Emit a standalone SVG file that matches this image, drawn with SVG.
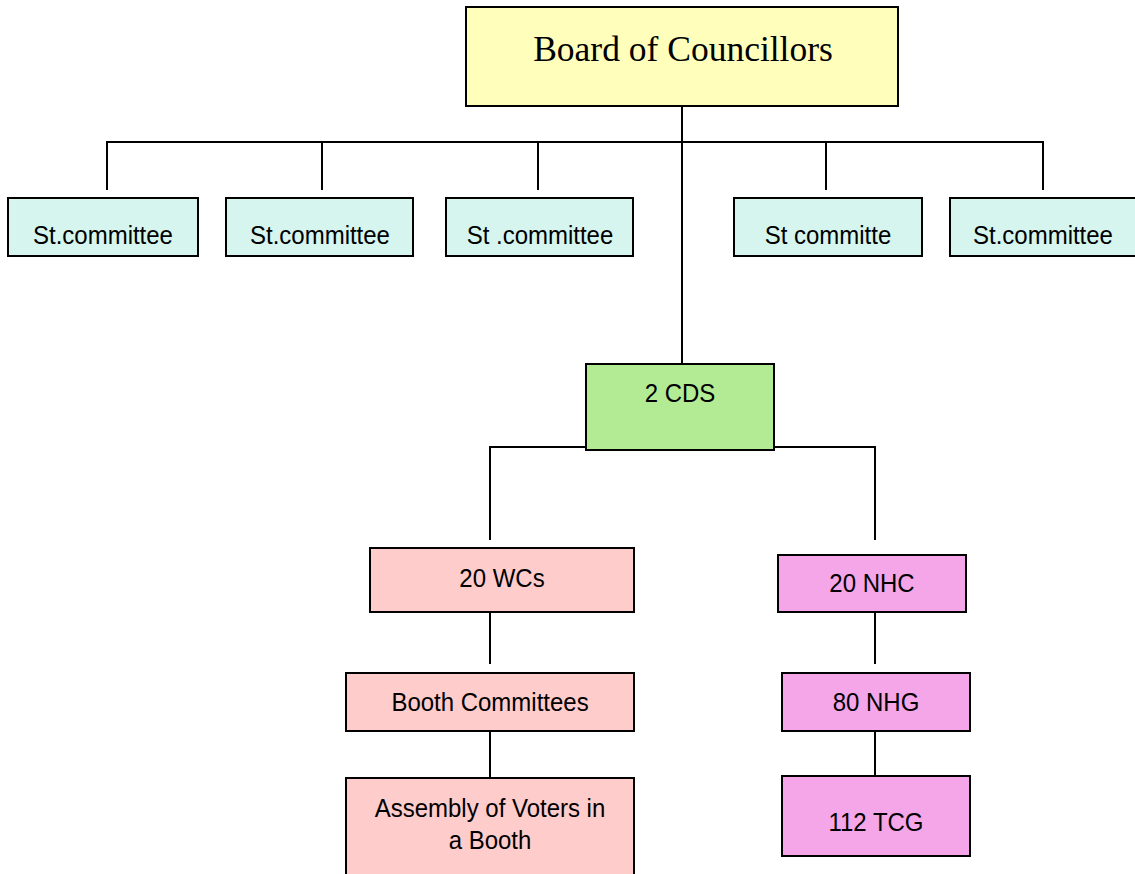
<svg xmlns="http://www.w3.org/2000/svg" width="1135" height="874" viewBox="0 0 1135 874">
<style>
rect{stroke:#000;stroke-width:2}
.t{font-family:"Liberation Sans",Arial,sans-serif;font-size:26.5px;fill:#000;text-anchor:middle}
.st{fill:#D5F5EE}
.pk{fill:#FFCCCC}
.mg{fill:#F4A6E8}
#connectors path{fill:none;stroke:#000;stroke-width:2}
</style>
<rect width="1135" height="874" fill="#fff" style="stroke:none"/>
<g id="connectors">
<path d="M682 106V364"/>
<path d="M107 190V142H1043V190M322 142V190M538 142V190M826 142V190"/>
<path d="M586 447H490V540M774 447H875V540"/>
<path d="M490 612V664M490 731V778"/>
<path d="M875 612V664M875 731V776"/>
</g>
<g id="board"><rect x="466" y="7" width="432" height="99" fill="#FFFFBB"/><text x="683" y="61" style="font-family:'Liberation Serif','Times New Roman',serif;font-size:35.5px;text-anchor:middle">Board of Councillors</text></g>
<g id="st1"><rect class="st" x="8" y="198" width="190" height="58"/><text class="t" transform="translate(103 244) scale(0.905 1)">St.committee</text></g>
<g id="st2"><rect class="st" x="226" y="198" width="187" height="58"/><text class="t" transform="translate(320 244) scale(0.905 1)">St.committee</text></g>
<g id="st3"><rect class="st" x="446" y="198" width="187" height="58"/><text class="t" transform="translate(540 244) scale(0.905 1)">St .committee</text></g>
<g id="st4"><rect class="st" x="734" y="198" width="188" height="58"/><text class="t" transform="translate(828 244) scale(0.905 1)">St committe</text></g>
<g id="st5"><rect class="st" x="950" y="198" width="190" height="58"/><text class="t" transform="translate(1043 244) scale(0.905 1)">St.committee</text></g>
<g id="cds"><rect x="586" y="364" width="188" height="86" fill="#B3EB95"/><text class="t" transform="translate(680 402) scale(0.905 1)">2 CDS</text></g>
<g id="wcs"><rect class="pk" x="370" y="548" width="264" height="64"/><text class="t" transform="translate(502 587) scale(0.905 1)">20 WCs</text></g>
<g id="booth"><rect class="pk" x="346" y="673" width="288" height="58"/><text class="t" transform="translate(490 711) scale(0.905 1)">Booth Committees</text></g>
<g id="assembly"><rect class="pk" x="346" y="778" width="288" height="100"/><text class="t" transform="translate(490 817) scale(0.905 1)">Assembly of Voters in</text><text class="t" transform="translate(490 849) scale(0.905 1)">a Booth</text></g>
<g id="nhc"><rect class="mg" x="778" y="555" width="188" height="57"/><text class="t" transform="translate(872 592) scale(0.905 1)">20 NHC</text></g>
<g id="nhg"><rect class="mg" x="782" y="673" width="188" height="58"/><text class="t" transform="translate(876 711) scale(0.905 1)">80 NHG</text></g>
<g id="tcg"><rect class="mg" x="782" y="776" width="188" height="80"/><text class="t" transform="translate(876 831) scale(0.905 1)">112 TCG</text></g>
</svg>
